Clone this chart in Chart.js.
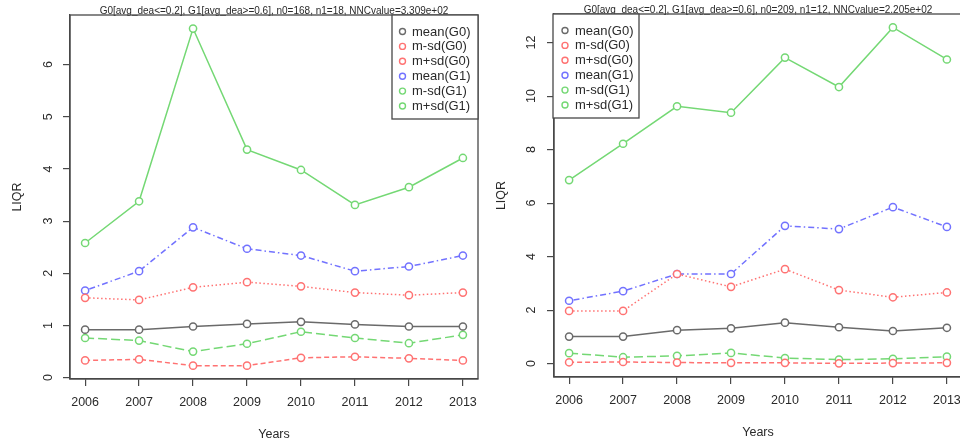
<!DOCTYPE html>
<html><head><meta charset="utf-8">
<script src="https://cdn.jsdelivr.net/npm/chart.js@4.4.1/dist/chart.umd.min.js"></script>
<style>
html,body{margin:0;padding:0;background:#fff;overflow:hidden;width:960px;height:442px;position:relative;}
#c1{position:absolute;left:0;top:0;}
#c2{position:absolute;left:480px;top:0;}
</style></head><body>
<canvas id="c1" width="480" height="442"></canvas>
<canvas id="c2" width="490" height="442"></canvas>
<script>
// ---- data ----
const years = [2006, 2007, 2008, 2009, 2010, 2011, 2012, 2013];
const seriesLabels = ['mean(G0)', 'm-sd(G0)', 'm+sd(G0)', 'mean(G1)', 'm-sd(G1)', 'm+sd(G1)'];
const leftTitle = 'G0[avg_dea<=0.2], G1[avg_dea>=0.6], n0=168, n1=18, NNCvalue=3.309e+02';
const rightTitle = 'G0[avg_dea<=0.2], G1[avg_dea>=0.6], n0=209, n1=12, NNCvalue=2.205e+02';
const xAxisTitle = 'Years';
const yAxisTitle = 'LIQR';
const leftYTicks = [0, 1, 2, 3, 4, 5, 6];
const rightYTicks = [0, 2, 4, 6, 8, 10, 12];

const leftMeanG0 = [0.92, 0.92, 0.98, 1.03, 1.07, 1.02, 0.98, 0.98];
const leftMinusSdG0 = [0.33, 0.35, 0.23, 0.23, 0.38, 0.40, 0.37, 0.33];
const leftPlusSdG0 = [1.53, 1.49, 1.73, 1.83, 1.75, 1.63, 1.58, 1.63];
const leftMeanG1 = [1.67, 2.04, 2.88, 2.47, 2.34, 2.04, 2.13, 2.34];
const leftMinusSdG1 = [0.76, 0.71, 0.50, 0.65, 0.88, 0.76, 0.66, 0.82];
const leftPlusSdG1 = [2.58, 3.38, 6.69, 4.37, 3.98, 3.31, 3.65, 4.21];

const rightMeanG0 = [1.01, 1.01, 1.25, 1.32, 1.53, 1.36, 1.22, 1.34];
const rightMinusSdG0 = [0.05, 0.06, 0.04, 0.03, 0.03, 0.01, 0.02, 0.03];
const rightPlusSdG0 = [1.97, 1.97, 3.35, 2.87, 3.53, 2.75, 2.48, 2.66];
const rightMeanG1 = [2.35, 2.71, 3.35, 3.35, 5.15, 5.03, 5.85, 5.11];
const rightMinusSdG1 = [0.39, 0.24, 0.29, 0.40, 0.21, 0.15, 0.18, 0.26];
const rightPlusSdG1 = [6.86, 8.22, 9.62, 9.38, 11.44, 10.34, 12.57, 11.37];

// ---- styles ----
const FONT = 'Liberation Sans, Arial, sans-serif';
const TXT = '#2a2a2a';
const AXIS = '#484848';
const seriesColors = ['#6a6a6a', '#ff7272', '#ff7272', '#7272ff', '#74d874', '#74d874'];
const seriesDashes = [[], [5, 3], [1.5, 2.5], [1.5, 3, 6, 3], [9, 4], []];

function makeDatasets(arrs) {
  return arrs.map((vals, i) => ({
    label: seriesLabels[i],
    data: vals.map((v, j) => ({x: years[j], y: v})),
    borderColor: seriesColors[i],
    borderDash: seriesDashes[i],
    borderWidth: 1.5,
    pointStyle: 'circle',
    pointRadius: 3.6,
    pointBorderWidth: 1.5,
    pointBorderColor: seriesColors[i],
    pointBackgroundColor: '#ffffff',
    tension: 0,
    fill: false
  }));
}

const boxPlugin = {
  id: 'rbox',
  beforeDatasetsDraw(chart) {
    const a = chart.chartArea, ctx = chart.ctx;
    ctx.save();
    ctx.strokeStyle = AXIS;
    ctx.lineWidth = 1.3;
    ctx.strokeRect(a.left, a.top, a.right - a.left, a.bottom - a.top);
    ctx.restore();
  }
};

const innerLegend = {
  id: 'innerLegend',
  afterDatasetsDraw(chart, args, opts) {
    const a = chart.chartArea, ctx = chart.ctx;
    const w = 86, h = 104;
    const x0 = opts.side === 'right' ? a.right - w : a.left - 1;
    const y0 = a.top;
    ctx.save();
    ctx.fillStyle = '#ffffff';
    ctx.fillRect(x0, y0, w, h);
    ctx.strokeStyle = AXIS;
    ctx.lineWidth = 1.3;
    ctx.strokeRect(x0, y0, w, h);
    ctx.font = '13px ' + FONT;
    ctx.textBaseline = 'middle';
    ctx.textAlign = 'left';
    chart.data.datasets.forEach((ds, i) => {
      const yy = y0 + 16.5 + i * 14.9;
      ctx.beginPath();
      ctx.arc(x0 + opts.markX, yy, 3, 0, Math.PI * 2);
      ctx.strokeStyle = ds.borderColor;
      ctx.lineWidth = 1.4;
      ctx.stroke();
      ctx.fillStyle = TXT;
      ctx.fillText(ds.label, x0 + opts.textX, yy + 0.5);
    });
    ctx.restore();
  }
};

function zeroPad(s) { s.paddingLeft = 0; s.paddingRight = 0; s.paddingTop = 0; s.paddingBottom = 0; }

function makeChart(id, title, arrs, yTicks, cfg) {
  return new Chart(document.getElementById(id), {
    type: 'line',
    data: {datasets: makeDatasets(arrs)},
    plugins: [boxPlugin, innerLegend],
    options: {
      responsive: false,
      animation: false,
      devicePixelRatio: 1,
      layout: {autoPadding: false, padding: {left: 0, top: 0, right: cfg.padRight, bottom: 0}},
      plugins: {
        legend: {display: false},
        tooltip: {enabled: false},
        title: {
          display: true, text: title, fullSize: false,
          color: TXT, font: {family: FONT, size: 10, weight: 'normal', lineHeight: 0.8},
          padding: {top: cfg.titleTop, bottom: 0}
        },
        innerLegend: {side: cfg.legendSide, markX: cfg.markX, textX: cfg.textX}
      },
      scales: {
        x: {
          type: 'linear', position: 'bottom',
          min: 2005.72, max: 2013.28,
          afterBuildTicks: s => { s.ticks = years.map(v => ({value: v})); },
          afterFit: s => { s.height = cfg.xAxisH; zeroPad(s); },
          grid: {display: true, drawOnChartArea: false, drawTicks: true, tickLength: 7, color: AXIS, tickColor: AXIS, lineWidth: 1.2},
          border: {display: true, color: AXIS, width: 1.3},
          ticks: {autoSkip: false, minRotation: 0, maxRotation: 0, padding: 9, color: TXT,
                  font: {family: FONT, size: 12.5}, callback: v => String(v)},
          title: {display: true, text: xAxisTitle, color: TXT, font: {family: FONT, size: 12.5},
                  padding: {top: 0, bottom: cfg.xTitlePad}}
        },
        y: {
          type: 'linear', position: 'left',
          min: cfg.yMin, max: cfg.yMax,
          afterBuildTicks: s => { s.ticks = yTicks.map(v => ({value: v})); },
          afterFit: s => { s.width = cfg.yAxisW; zeroPad(s); },
          grid: {display: true, drawOnChartArea: false, drawTicks: true, tickLength: 7, color: AXIS, tickColor: AXIS, lineWidth: 1.2},
          border: {display: true, color: AXIS, width: 1.3},
          ticks: {autoSkip: false, minRotation: 90, maxRotation: 90, crossAlign: 'center',
                  padding: cfg.yTickPad, color: TXT, font: {family: FONT, size: 12.5}, callback: v => String(v)},
          title: {display: true, text: yAxisTitle, color: TXT, font: {family: FONT, size: 12.5},
                  padding: {top: cfg.yTitlePad, bottom: 0}}
        }
      }
    }
  });
}

makeChart('c1', leftTitle,
  [leftMeanG0, leftMinusSdG0, leftPlusSdG0, leftMeanG1, leftMinusSdG1, leftPlusSdG1],
  leftYTicks,
  {padRight: 2, titleTop: 7, xAxisH: 63, yAxisW: 70, yMin: -0.026, yMax: 6.95,
   yTickPad: 11, yTitlePad: 10.5, xTitlePad: 0, legendSide: 'right', markX: 10.5, textX: 20});

makeChart('c2', rightTitle,
  [rightMeanG0, rightMinusSdG0, rightPlusSdG0, rightMeanG1, rightMinusSdG1, rightPlusSdG1],
  rightYTicks,
  {padRight: 8, titleTop: 6, xAxisH: 65, yAxisW: 74, yMin: -0.5, yMax: 13.07,
   yTickPad: 9, yTitlePad: 14, xTitlePad: 2, legendSide: 'left', markX: 12, textX: 22});
</script>
</body></html>
